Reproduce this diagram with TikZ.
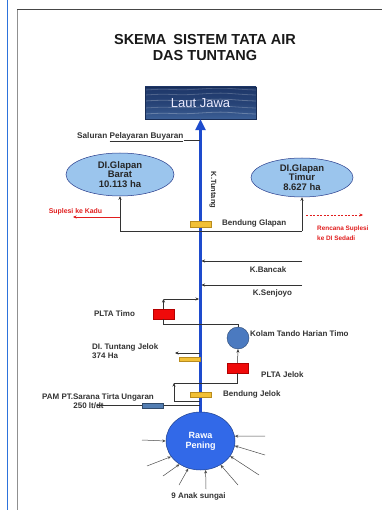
\documentclass[tikz,border=0pt]{standalone}
\usepackage{fontspec}
\setmainfont{Liberation Sans}
\usetikzlibrary{shapes.geometric,arrows.meta}
\definecolor{riverblue}{RGB}{30,75,205}
\definecolor{ellfill}{RGB}{155,197,237}
\definecolor{ellline}{RGB}{40,60,140}
\definecolor{rawafill}{RGB}{50,105,232}
\definecolor{kolamfill}{RGB}{75,122,192}
\definecolor{yfill}{RGB}{242,192,55}
\definecolor{yline}{RGB}{185,140,30}
\definecolor{rfill}{RGB}{240,10,10}
\definecolor{pamfill}{RGB}{82,125,178}
\definecolor{seatop}{RGB}{30,55,105}
\definecolor{seabot}{RGB}{60,95,150}
\definecolor{framegray}{RGB}{70,70,70}
\definecolor{leftblue}{RGB}{45,115,220}
\definecolor{supred}{RGB}{225,30,30}
\begin{document}
\begin{tikzpicture}[x=1pt,y=-1pt,
  lbl/.style={font=\fontsize{8}{9}\selectfont\bfseries, inner sep=0pt, text=black!80},
  rlbl/.style={font=\fontsize{6.4}{9.5}\selectfont\bfseries, inner sep=0pt, text=supred},
  arr/.style={-{Stealth[length=3.5pt,width=3pt]}, line width=0.5pt, black!80},
  conn/.style={line width=0.5pt, black!80},
  ybox/.style={rectangle, draw=yline, fill=yfill, line width=0.4pt, minimum width=21pt, minimum height=5pt, inner sep=0pt},
  rbox/.style={rectangle, draw=red!70!black, fill=rfill, line width=0.4pt, minimum width=21pt, minimum height=10pt, inner sep=0pt},
  dell/.style={ellipse, draw=ellline, fill=ellfill, line width=0.5pt, inner sep=0pt, align=center,
    font=\fontsize{9.5}{9.7}\selectfont\bfseries, text=black!85},
  inflow/.style={-{Stealth[length=3.5pt,width=3pt]}, line width=0.5pt, black!70}
]
\useasboundingbox (0,0) rectangle (382,510);
\fill[white] (0,0) rectangle (382,510);
% page frame
\draw[leftblue, line width=1.2pt] (7.5,0) -- (7.5,510);
\draw[framegray!60, line width=0.8pt] (17,510) -- (17,9);
\draw[framegray, line width=0.8pt] (17,9) -- (382,9);

% title
\node[font=\fontsize{14.5}{16}\selectfont\bfseries, align=center, inner sep=0pt, text=black!90] (title) at (205,47.5)
  {SKEMA\hspace{3pt} SISTEM TATA AIR\\DAS TUNTANG};

% Laut Jawa
\node[rectangle, minimum width=111pt, minimum height=32pt, inner sep=0pt,
  top color=seatop, bottom color=seabot, middle color=seatop!70!seabot, draw=seatop!80!black, line width=0.3pt,
  text=white!92!blue, font=\fontsize{13}{14}\selectfont,
  path picture={
    \foreach \yy/\oo in {-11/0.25,-5/0.2,2/0.25,8/0.2,13/0.18}{
      \draw[white, opacity=\oo, line width=0.8pt]
        ([yshift=\yy pt]path picture bounding box.west) .. controls +(30pt,2pt) and +(-30pt,-2pt) .. ([yshift=\yy pt+1pt]path picture bounding box.center)
        .. controls +(30pt,2pt) and +(-30pt,1pt) .. ([yshift=\yy pt]path picture bounding box.east);
    }
  }] (laut) at (200.5,103) {Laut Jawa};

% Rawa Pening
\node[ellipse, minimum width=69pt, minimum height=58pt, inner sep=0pt, fill=rawafill, draw=rawafill!60!black, line width=0.5pt,
  text=white, align=center, font=\fontsize{9}{10}\selectfont\bfseries] (rawa) at (200.5,441) {Rawa\\Pening};

% main river
\draw[riverblue, line width=2.6pt, -{Triangle[length=11pt,width=10pt]}] (rawa.north) -- (laut.south);

% Saluran Pelayaran Buyaran
\node[lbl, font=\fontsize{8.2}{9}\selectfont\bfseries, anchor=base west] (sal) at (77,138.5) {Saluran \underline{Pelayaran Buyaran}};
\coordinate (rSal) at (200,140.5);
\draw[conn] (sal.base east) ++(0,2) coordinate (salEnd) -- (rSal);

% DI Glapan ellipses
\node[dell, minimum width=108pt, minimum height=43pt] (barat) at (120,174.5) {DI.Glapan\\Barat\\10.113 ha};
\node[dell, minimum width=102pt, minimum height=39pt] (timur) at (302,177.5) {DI.Glapan\\Timur\\8.627 ha};

% Bendung Glapan
\node[ybox, minimum height=6pt] (bglapan) at (200.5,224) {};
\node[lbl, anchor=west] (lbglapan) at (222,223.5) {Bendung Glapan};
\coordinate (gW) at (120,231);
\coordinate (gE) at (302,231);
\draw[conn] (gW) -- (gE);
\draw[arr] (gW) -- (barat.south);
\draw[arr] (gE) -- (timur.south);

% Suplesi ke Kadu
\coordinate (sK) at (120,217);
\coordinate (kadu) at (73,217);
\draw[supred, line width=0.5pt, -{Stealth[length=3.5pt,width=3pt]}] (sK) -- (kadu);
\node[rlbl, font=\fontsize{6.9}{9.5}\selectfont\bfseries] (lkadu) at (75.5,212) {Suplesi ke Kadu};

% Rencana Suplesi ke DI Sedadi
\coordinate (sedA) at (306,215);
\coordinate (sedB) at (363,215);
\draw[supred, line width=0.5pt, dashed, dash pattern=on 2pt off 1.5pt, -{Stealth[length=3.5pt,width=3pt]}] (sedA) -- (sedB);
\node[rlbl, anchor=west, align=left] (lsedadi) at (317,233) {Rencana Suplesi\\ke DI Sedadi};

% K.Tuntang
\node[lbl, rotate=-90, font=\fontsize{7.5}{8}\selectfont\bfseries] (ktuntang) at (213,190) {K.Tuntang};

% K.Bancak, K.Senjoyo
\coordinate (bancakS) at (302,261);
\coordinate (bancakE) at (201.5,261);
\draw[arr] (bancakS) -- (bancakE);
\node[lbl] (lbancak) at (268,270) {K.Bancak};
\coordinate (senjoyoS) at (302,285);
\coordinate (senjoyoE) at (201.5,285);
\draw[arr] (senjoyoS) -- (senjoyoE);
\node[lbl] (lsenjoyo) at (272.5,293) {K.Senjoyo};

% PLTA Timo
\node[rbox] (timo) at (163.5,314) {};
\node[lbl] (ltimo) at (114.5,313.5) {PLTA Timo};
\coordinate (timoC) at (163.5,299);
\coordinate (timoR) at (199,299);
\draw[arr] (timo.north) -- (timoC);
\draw[arr] (timoC) -- (timoR);

% Kolam Tando Harian Timo
\node[circle, minimum size=22pt, inner sep=0pt, fill=kolamfill, draw=kolamfill!60!black, line width=0.4pt] (kolam) at (238,338) {};
\node[lbl, anchor=west] (lkolam) at (250,334) {Kolam Tando Harian Timo};
\draw[conn] (timo.south) -- (163.5,324) -| (kolam.north);

% DI Tuntang Jelok
\node[ybox, minimum height=4.5pt] (btj) at (189.5,359) {};
\coordinate (tjR) at (200,353);
\coordinate (tjL) at (175,353);
\draw[arr] (tjR) -- (tjL);
\node[lbl, anchor=west, align=left] (ltj) at (92,351.5) {DI. Tuntang Jelok\\374 Ha};

% PLTA Jelok
\node[rbox] (jelok) at (237.5,368) {};
\node[lbl, anchor=west] (ljelok) at (261,375) {PLTA Jelok};
\draw[arr] (jelok.north) -- (kolam.south);
\coordinate (jC) at (174,383);
\coordinate (jR) at (200,401);
\draw[arr] (jR) -- (174,401) -- (jC);
\draw[conn] (jC) -- (237.5,383) -- (jelok.south);

% Bendung Jelok
\node[ybox] (bjelok) at (200.5,394.5) {};
\node[lbl, anchor=west] (lbjelok) at (223,394) {Bendung Jelok};

% PAM
\node[lbl] (lpam) at (98,397.5) {PAM PT.Sarana Tirta Ungaran};
\node[lbl] (lpam2) at (88.5,406) {250 lt/dt};
\coordinate (pamL) at (97,405);
\coordinate (pamR) at (200,405);
\draw[conn] (pamL) -- (pamR);
\node[rectangle, draw=pamfill!60!black, fill=pamfill, line width=0.4pt, minimum width=21pt, minimum height=5pt, inner sep=0pt] (pam) at (152.5,405.5) {};

% inflows
\coordinate (f1) at (142,440);  \draw[inflow] (f1) -- (rawa.180);
\coordinate (f2) at (147,466);  \draw[inflow] (f2) -- (rawa.208);
\coordinate (f3) at (163,476);  \draw[inflow] (f3) -- (rawa.228);
\coordinate (f4) at (179,485);  \draw[inflow] (f4) -- (rawa.246);
\coordinate (f5) at (206,489);  \draw[inflow] (f5) -- (rawa.280);
\coordinate (f6) at (238,485);  \draw[inflow] (f6) -- (rawa.310);
\coordinate (f7) at (259,475);  \draw[inflow] (f7) -- (rawa.333);
\coordinate (f8) at (265,455);  \draw[inflow] (f8) -- (rawa.352);
\coordinate (f9) at (265,436);  \draw[inflow] (f9) -- (rawa.8);
\node[lbl] (lanak) at (198.5,496) {9 Anak sungai};
\end{tikzpicture}
\end{document}
